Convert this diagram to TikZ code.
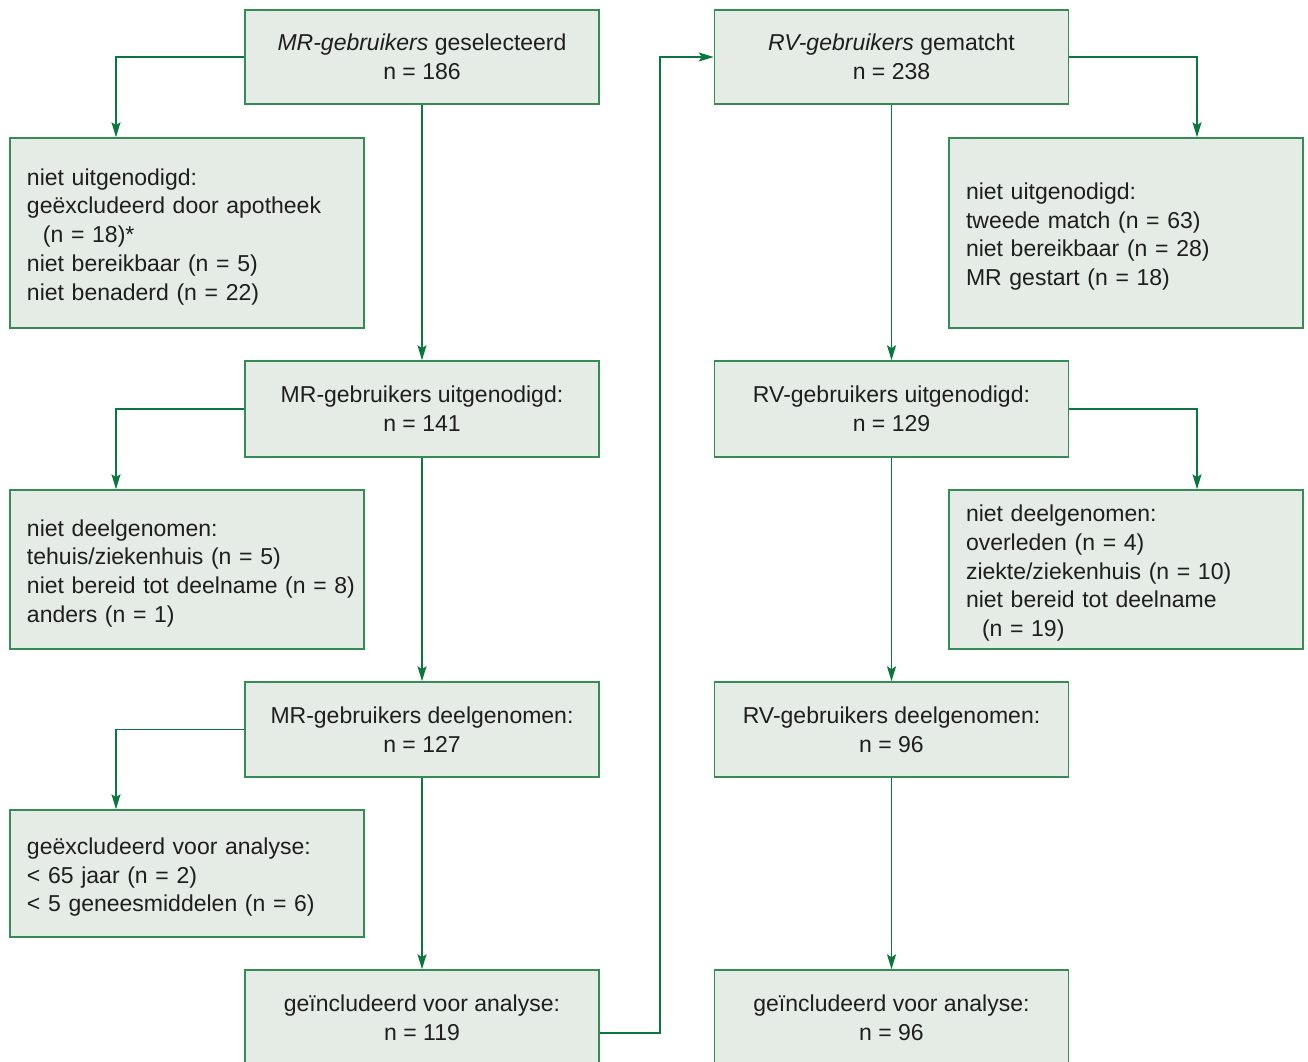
\documentclass[tikz,border=0pt]{standalone}
\usepackage{fontspec}
\setmainfont{Liberation Sans}
\usetikzlibrary{arrows.meta}
\definecolor{boxfill}{RGB}{229,235,229}
\definecolor{boxline}{RGB}{52,140,84}
\definecolor{arrcol}{RGB}{10,120,60}
\definecolor{txtcol}{RGB}{30,30,30}
\tikzset{
  box/.style={draw=boxline, fill=boxfill, line width=1.5pt, minimum width=354pt, inner ysep=0pt,
    text=txtcol, font=\fontsize{23}{28.7}\selectfont,
    execute at begin node={\rule{0pt}{24pt}}},
  mainbox/.style={box, align=center, inner xsep=0pt},
  sidebox/.style={box, align=left, text width=320pt, inner xsep=17pt},
  arr/.style={draw=arrcol, line width=1.5pt, -{Stealth[length=15pt,width=9pt,inset=3pt]}}
}
\begin{document}
\begin{tikzpicture}[x=1pt,y=-1pt]
\fill[white] (0,0) rectangle (1308,1061);
\clip (0,0) rectangle (1308,1061);
% left column
\node[mainbox, minimum height=94pt] (A1) at (422,57) {\textit{MR-gebruikers} geselecteerd\\n = 186};
\node[sidebox, minimum height=190pt] (B1) at (187,233) {niet uitgenodigd:\\\mbox{geëxcludeerd door apotheek}\\\hspace*{16pt}(n = 18)*\\niet bereikbaar (n = 5)\\niet benaderd (n = 22)};
\node[mainbox, minimum height=96pt] (A2) at (422,409) {MR-gebruikers uitgenodigd:\\n = 141};
\node[sidebox, minimum height=159pt] (B2) at (187,569.5) {niet deelgenomen:\\tehuis/ziekenhuis (n = 5)\\\mbox{niet bereid tot deelname (n = 8)}\\anders (n = 1)};
\node[mainbox, minimum height=95pt] (A3) at (422,729.5) {MR-gebruikers deelgenomen:\\n = 127};
\node[sidebox, minimum height=127pt] (B3) at (187,873.5) {geëxcludeerd voor analyse:\\< 65 jaar (n = 2)\\< 5 geneesmiddelen (n = 6)};
\node[mainbox, minimum height=95pt] (A4) at (422,1017.5) {geïncludeerd voor analyse:\\n = 119};
% right column
\node[mainbox, minimum height=94pt] (R1) at (891.5,57) {\textit{RV-gebruikers} gematcht\\n = 238};
\node[sidebox, minimum height=190pt] (C1) at (1126,233) {niet uitgenodigd:\\tweede match (n = 63)\\niet bereikbaar (n = 28)\\MR gestart (n = 18)};
\node[mainbox, minimum height=96pt] (R2) at (891.5,409) {RV-gebruikers uitgenodigd:\\n = 129};
\node[sidebox, minimum height=159pt] (C2) at (1126,569.5) {niet deelgenomen:\\overleden (n = 4)\\\mbox{ziekte/ziekenhuis (n = 10)}\\niet bereid tot deelname\\\hspace*{16pt}(n = 19)};
\node[mainbox, minimum height=95pt] (R3) at (891.5,729.5) {RV-gebruikers deelgenomen:\\n = 96};
\node[mainbox, minimum height=95pt] (R4) at (891.5,1017.5) {geïncludeerd voor analyse:\\n = 96};
% connectors
\draw[arr] (A1.west) -| ([xshift=-71pt]B1.north);
\draw[arr] (A2.west) -| ([xshift=-71pt]B2.north);
\draw[arr] (A3.west) -| ([xshift=-71pt]B3.north);
\draw[arr] (A1.south) -- (A2.north);
\draw[arr] (A2.south) -- (A3.north);
\draw[arr] (A3.south) -- (A4.north);
\draw[arr] ([yshift=-15.5pt]A4.east) -- ++(60,0) |- (R1.west);
\draw[arr] (R1.east) -| ([xshift=71pt]C1.north);
\draw[arr] (R2.east) -| ([xshift=71pt]C2.north);
\draw[arr] (R1.south) -- (R2.north);
\draw[arr] (R2.south) -- (R3.north);
\draw[arr] (R3.south) -- (R4.north);
\end{tikzpicture}
\end{document}
